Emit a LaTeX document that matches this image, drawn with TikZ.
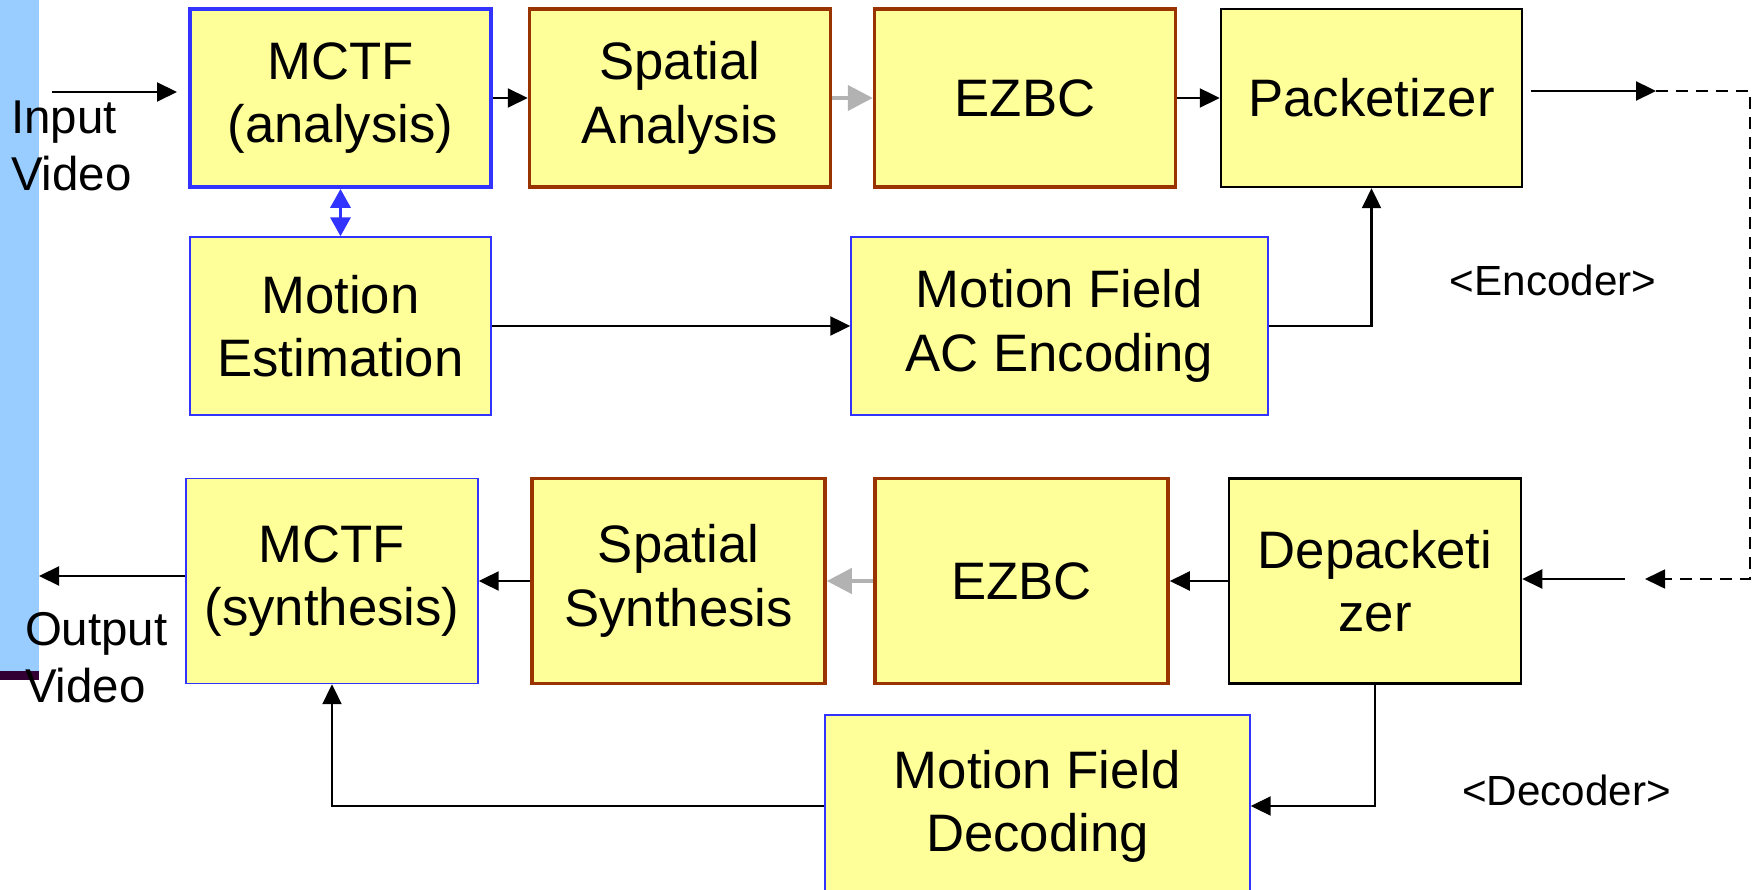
\documentclass[tikz,border=0pt]{standalone}
\usepackage{fontspec}
\setmainfont{Liberation Sans}
\usepackage{tikz}
\usepackage{xcolor}
\usetikzlibrary{arrows.meta}
\definecolor{boxyellow}{HTML}{FFFF99}
\definecolor{edgeblue}{HTML}{3333FF}
\definecolor{edgebrown}{HTML}{993300}
\definecolor{flowgray}{HTML}{B2B2B2}
\definecolor{barblue}{HTML}{99CCFF}
\definecolor{barpurple}{HTML}{330033}

\begin{document}
\begin{tikzpicture}[>={Triangle[length=2mm,width=1.9mm]}, line width=0.6pt,
    block/.style={fill=boxyellow, inner sep=0pt, align=center,
        minimum width=3.01cm, minimum height=1.78cm,
        font=\fontsize{15}{18}\selectfont},
    blueblock/.style={block, draw=edgeblue, line width=0.4pt},
    brownblock/.style={block, draw=edgebrown, line width=1pt},
    blackblock/.style={block, draw=black, line width=0.7pt},
    grayflow/.style={->, >={Triangle[length=2.5mm,width=2.5mm]}, draw=flowgray, line width=1.2pt},
    sidelabel/.style={inner sep=0pt, align=left, font=\fontsize{13.5}{16.2}\selectfont}]
    \useasboundingbox (0,0) rectangle (17.59,-8.90);
    % Side bar
    \fill [barblue] (0,0) rectangle (0.39,-6.72);
    \fill [barpurple] (0,-6.71) rectangle (0.39,-6.80);
    % Encoder
    \node [blueblock, line width=1.1pt] (mctfa) at (3.405,-0.98) {MCTF\\(analysis)};
    \node [brownblock] (spa) at (6.80,-0.98) {Spatial\\Analysis};
    \node [brownblock] (ezbca) at (10.25,-0.98) {EZBC};
    \node [blackblock] (pack) at (13.715,-0.98) {Packetizer};
    \node [blueblock] (me) at (3.405,-3.26) {Motion\\Estimation};
    \node [blueblock, minimum width=4.17cm] (mfac) at (10.595,-3.26) {Motion Field\\AC Encoding};
    % Decoder
    \node [blueblock, minimum width=2.92cm, minimum height=2.05cm] (mctfs) at (3.32,-5.81) {MCTF\\(synthesis)};
    \node [brownblock, minimum width=2.93cm, minimum height=2.05cm] (sps) at (6.785,-5.81) {Spatial\\Synthesis};
    \node [brownblock, minimum width=2.93cm, minimum height=2.05cm] (ezbcs) at (10.215,-5.81) {EZBC};
    \node [blackblock, minimum width=2.92cm, minimum height=2.05cm] (depack) at (13.75,-5.81) {Depacketi\\zer};
    \node [blueblock, minimum width=4.25cm, minimum height=1.82cm] (mfd) at (10.375,-8.06) {Motion Field\\Decoding};
    % Labels
    \node [sidelabel, anchor=west] (inlbl) at (0.10,-1.46) {Input\\Video};
    \node [sidelabel, anchor=west] (outlbl) at (0.24,-6.575) {Output\\Video};
    \node [inner sep=0pt, font=\fontsize{12}{14}\selectfont] (enclbl) at (15.53,-2.80) {<Encoder>};
    \node [inner sep=0pt, font=\fontsize{12}{14}\selectfont] (declbl) at (15.665,-7.90) {<Decoder>};
    % Channel ends
    \coordinate (inA) at (0.52,-0.92);
    \coordinate (inB) at (1.77,-0.92);
    \coordinate (txA) at (15.31,-0.91);
    \coordinate (txB) at (16.56,-0.91);
    \coordinate (chR) at (17.50,-0.91);
    \coordinate (rxB) at (16.45,-5.79);
    \coordinate (rxA) at (16.25,-5.79);
    \coordinate (outV) at (0.39,-5.76);
    % Encoder flow
    \draw [->] (inA) -- (inB);
    \draw [->] (mctfa) -- (spa);
    \draw [grayflow] (spa) -- (ezbca);
    \draw [->] (ezbca) -- (pack);
    \draw [<->, draw=edgeblue, line width=1pt, >={Triangle[length=1.9mm,width=2mm]}, color=edgeblue] (mctfa) -- (me);
    \draw [->] (me) -- (mfac);
    \draw [->] (mfac.east) -| (pack.south);
    \draw [->] (txA) -- (txB);
    % Channel
    \draw [->, dash pattern=on 1.2mm off 0.8mm, line width=0.5pt] (txB) -- (chR) |- (rxB);
    % Decoder flow
    \draw [->] (rxA) -- (rxA -| depack.east);
    \draw [->] (depack) -- (ezbcs);
    \draw [grayflow] (ezbcs) -- (sps);
    \draw [->] (sps) -- (mctfs);
    \draw [->] (mctfs.west |- outV) -- (outV);
    \draw [->] (depack.south) |- (mfd.east);
    \draw [->] (mfd.west) -| (mctfs.south);
\end{tikzpicture}
\end{document}
